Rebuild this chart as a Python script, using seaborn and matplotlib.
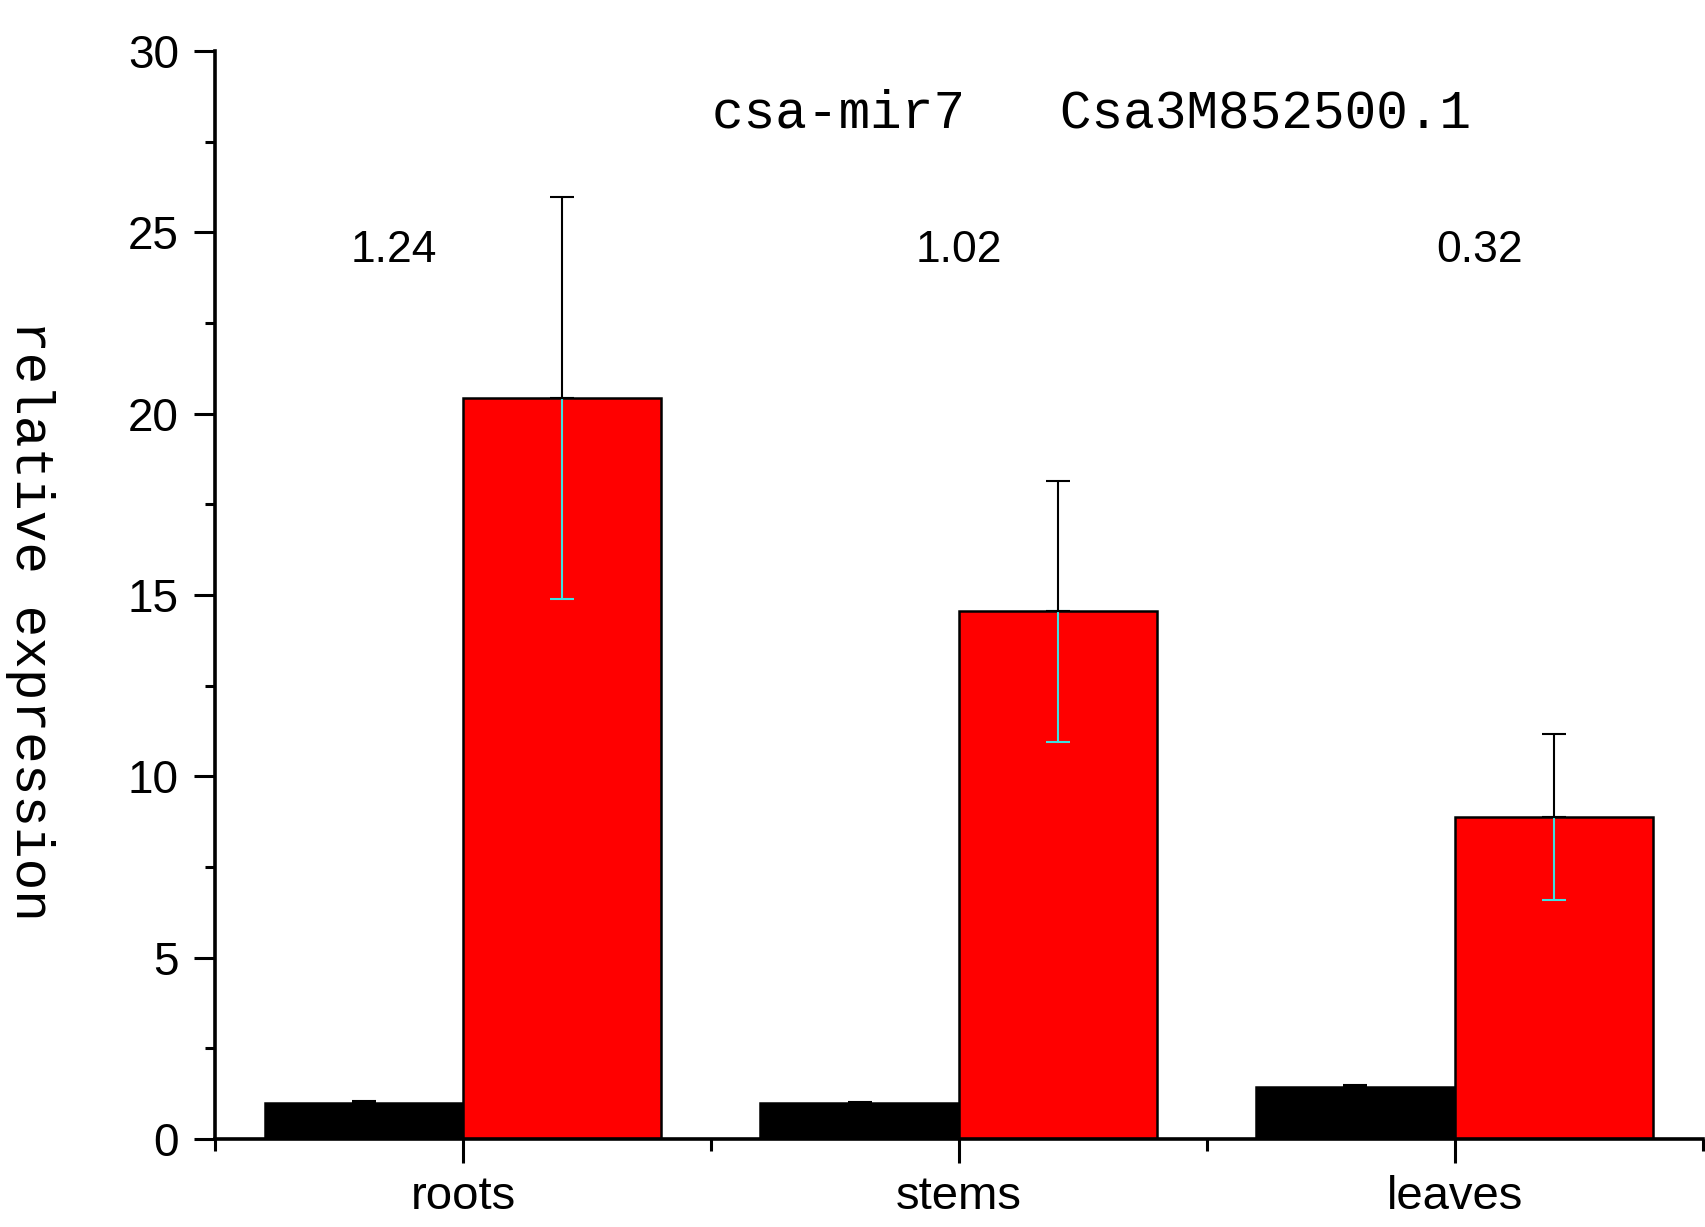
import matplotlib
matplotlib.use("Agg")
import matplotlib.pyplot as plt
import seaborn as sns
import pandas as pd
import numpy as np
from matplotlib.ticker import MultipleLocator, FixedLocator

# ---- data ----
tissues = ["roots", "stems", "leaves"]
series_names = ["csa-mir7", "Csa3M852500.1"]
mir_values = [1.00, 0.98, 1.43]
mir_err = [0.05, 0.05, 0.05]
target_values = [20.43, 14.55, 8.88]
target_err = [5.55, 3.60, 2.30]
ratio_labels = ["1.24", "1.02", "0.32"]
ratio_label_x = [-0.14, 1.0, 2.05]
ratio_label_y = 24.5
title_text = "csa-mir7   Csa3M852500.1"
ylabel_text = "relative expression"

df = pd.DataFrame({
    "tissue": tissues * 2,
    "series": [series_names[0]] * 3 + [series_names[1]] * 3,
    "value": mir_values + target_values,
})
errs = {series_names[0]: mir_err, series_names[1]: target_err}

sns.set_theme(style="ticks")
plt.rcParams["font.family"] = ["Liberation Sans", "DejaVu Sans"]

fig = plt.figure(figsize=(17.06, 12.27), dpi=100)
ax = fig.add_axes([0.126, 0.0717, 0.872, 0.8866])

sns.barplot(data=df, x="tissue", y="value", hue="series", order=tissues,
            hue_order=series_names, palette=["#000000", "#FF0000"],
            edgecolor="black", linewidth=1.8, width=0.8, errorbar=None,
            saturation=1, ax=ax)
if ax.get_legend() is not None:
    ax.get_legend().remove()

cyan = "#3FE0E0"
patches = [p for p in ax.patches if p.get_height() > 0]
# patches ordered by hue then category
for i, p in enumerate(patches[:6]):
    s = series_names[i // 3]
    e = errs[s][i % 3]
    xc = p.get_x() + p.get_width() / 2
    h = p.get_height()
    if s == series_names[1]:
        ax.errorbar(xc, h, yerr=[[e], [0]], color=cyan, capsize=8.5,
                    elinewidth=1.5, capthick=1.5, fmt="none", zorder=4)
    ax.errorbar(xc, h, yerr=[[0], [e]], color="black", capsize=8.5,
                elinewidth=1.5, capthick=1.5, fmt="none", zorder=5)

ax.set_xlim(-0.5, 2.5)
ax.set_ylim(0, 30)
ax.yaxis.set_major_locator(MultipleLocator(5))
ax.yaxis.set_minor_locator(MultipleLocator(2.5))
ax.xaxis.set_minor_locator(FixedLocator([-0.5, 0.5, 1.5, 2.5]))

sns.despine(ax=ax)
for sp in ["left", "bottom"]:
    ax.spines[sp].set_linewidth(2.6)
    ax.spines[sp].set_color("black")

ax.tick_params(axis="y", which="major", direction="out", length=15, width=2.2,
               labelsize=33, pad=11, color="black", labelcolor="black")
ax.tick_params(axis="y", which="minor", direction="out", length=7.5, width=2.2,
               color="black")
ax.tick_params(axis="x", which="major", direction="out", length=17, width=2.2,
               labelsize=34, pad=9, color="black", labelcolor="black")
ax.tick_params(axis="x", which="minor", direction="out", length=8.5, width=2.2,
               color="black")

ax.set_xlabel("")
ax.set_ylabel("")

for xl, t in zip(ratio_label_x, ratio_labels):
    ax.text(xl, ratio_label_y, t, ha="center", va="center", fontsize=32,
            color="black")

ax.text(0.589, 0.943, title_text, transform=ax.transAxes, ha="center",
        va="center", fontsize=38, family=["Liberation Mono", "DejaVu Sans Mono"],
        color="black")
ax.text(-0.124, 0.477, ylabel_text, transform=ax.transAxes, ha="center",
        va="center", rotation=270, fontsize=38,
        family=["Liberation Mono", "DejaVu Sans Mono"], color="black")

ax.set_facecolor("white")
fig.patch.set_facecolor("white")
fig.savefig("out.png", dpi=100)
